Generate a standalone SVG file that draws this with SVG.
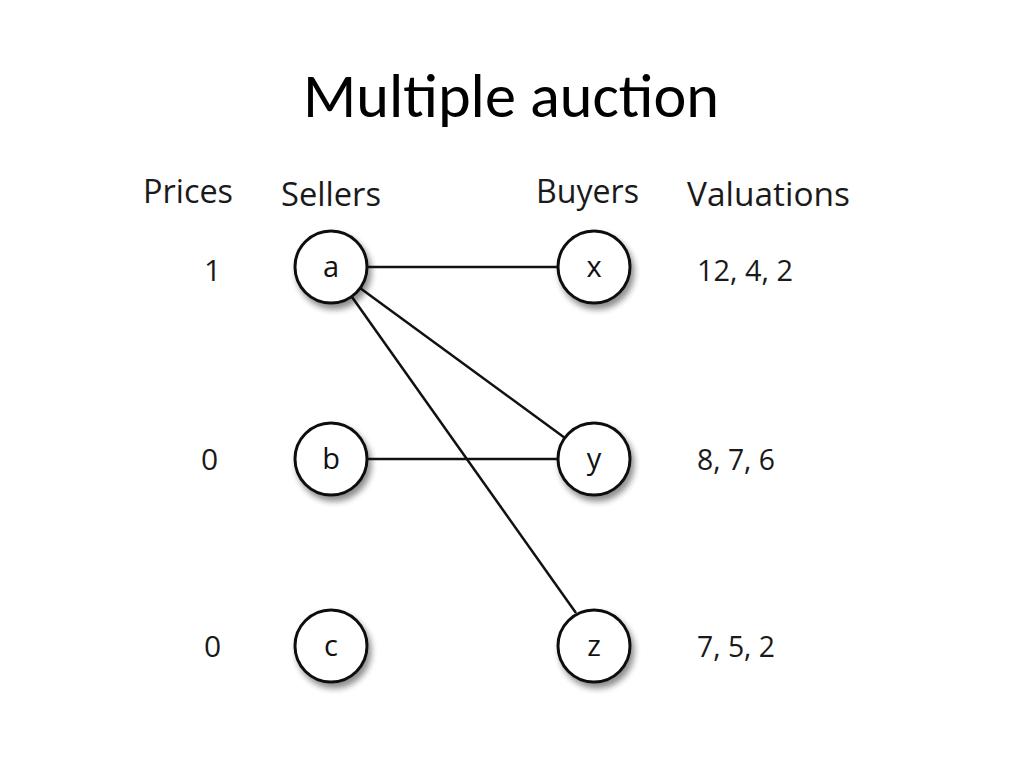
<svg xmlns="http://www.w3.org/2000/svg" width="1024" height="768" viewBox="0 0 1024 768">
<defs>
<filter id="sh" x="-30%" y="-30%" width="170%" height="170%">
<feGaussianBlur in="SourceAlpha" stdDeviation="3"/>
<feOffset dx="3" dy="5" result="b"/>
<feComponentTransfer><feFuncA type="linear" slope="0.45"/></feComponentTransfer>
<feMerge><feMergeNode/><feMergeNode in="SourceGraphic"/></feMerge>
</filter>
<style>
.title{font-family:Calibri,"Liberation Sans",Arial,sans-serif;font-size:62px;fill:#000;text-anchor:middle}
.hd{font-family:"Open Sans","Liberation Sans",sans-serif;font-size:32px;fill:#1a1a1a}
.lb{font-family:"Open Sans","Liberation Sans",sans-serif;font-size:30px;fill:#1a1a1a}
.nl{font-family:"Open Sans","Liberation Sans",sans-serif;font-size:29px;fill:#111;text-anchor:middle}
.nd{fill:#fff;stroke:#111;stroke-width:3}
.ed{stroke:#111;stroke-width:2.5;fill:none}
</style>
</defs>
<rect width="1024" height="768" fill="#fff"/>
<text class="title" x="511" y="117" textLength="416" lengthAdjust="spacingAndGlyphs">Multiple auction</text>
<g id="headers">
<text class="hd" x="143" y="203" textLength="90" lengthAdjust="spacingAndGlyphs">Prices</text>
<text class="hd" x="281" y="206" textLength="100" lengthAdjust="spacingAndGlyphs">Sellers</text>
<text class="hd" x="536" y="203" textLength="103" lengthAdjust="spacingAndGlyphs">Buyers</text>
<text class="hd" x="687" y="206" textLength="163" lengthAdjust="spacingAndGlyphs">Valuations</text>
</g>
<g id="prices">
<text class="lb" x="204" y="281">1</text>
<text class="lb" x="201" y="470">0</text>
<text class="lb" x="204" y="657">0</text>
</g>
<g id="valuations">
<text class="lb" x="697" y="281" textLength="96" lengthAdjust="spacingAndGlyphs">12, 4, 2</text>
<text class="lb" x="697" y="470" textLength="78" lengthAdjust="spacingAndGlyphs">8, 7, 6</text>
<text class="lb" x="697" y="657" textLength="78" lengthAdjust="spacingAndGlyphs">7, 5, 2</text>
</g>
<g id="connectors">
<line class="ed" x1="368" y1="267" x2="557" y2="267"/>
<line class="ed" x1="360" y1="288" x2="565" y2="438"/>
<line class="ed" x1="352" y1="297" x2="576" y2="613"/>
<line class="ed" x1="368" y1="459" x2="557" y2="459"/>
</g>
<g id="node-a"><circle class="nd" cx="331" cy="267" r="36" filter="url(#sh)"/><text class="nl" x="331" y="277">a</text></g>
<g id="node-b"><circle class="nd" cx="331" cy="459" r="36" filter="url(#sh)"/><text class="nl" x="331" y="469">b</text></g>
<g id="node-c"><circle class="nd" cx="331" cy="646" r="36" filter="url(#sh)"/><text class="nl" x="331" y="656">c</text></g>
<g id="node-x"><circle class="nd" cx="594" cy="267" r="36" filter="url(#sh)"/><text class="nl" x="594" y="277">x</text></g>
<g id="node-y"><circle class="nd" cx="594" cy="459" r="36" filter="url(#sh)"/><text class="nl" x="594" y="469">y</text></g>
<g id="node-z"><circle class="nd" cx="594" cy="646" r="36" filter="url(#sh)"/><text class="nl" x="594" y="656">z</text></g>
</svg>
